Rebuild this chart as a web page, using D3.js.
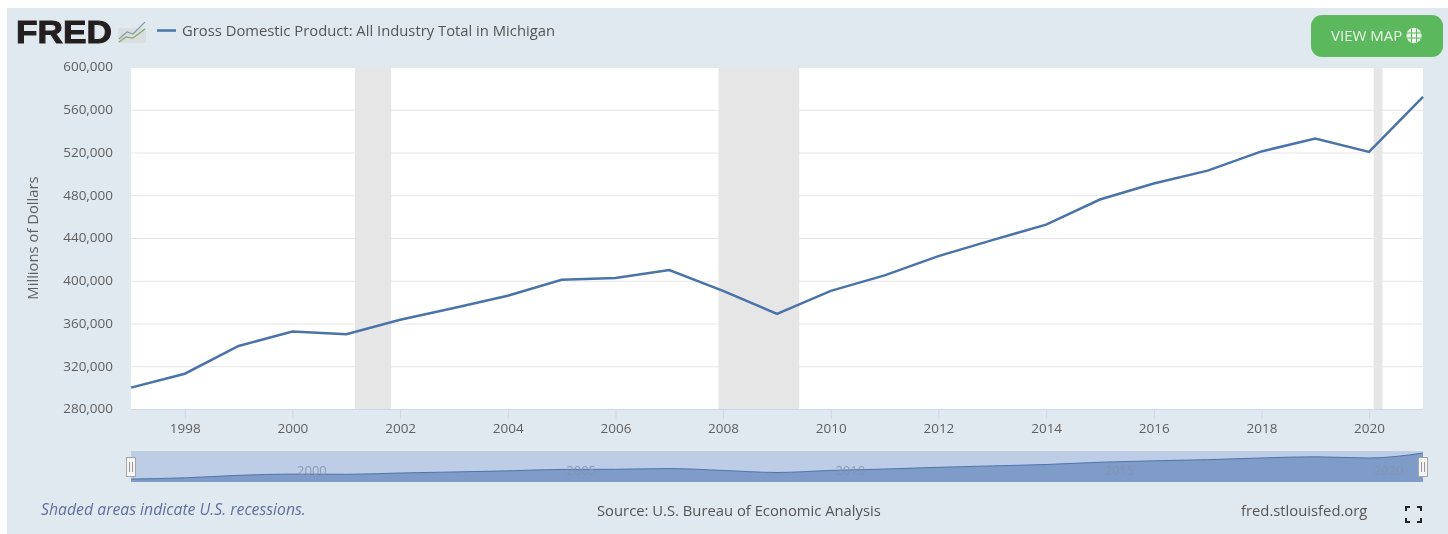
<!DOCTYPE html>
<html>
<head>
<meta charset="utf-8">
<script src="https://cdn.jsdelivr.net/npm/d3@7"></script>
<style>
    html, body { margin: 0; padding: 0; background: #fff; }
    svg { display: block; font-family: "Open Sans", sans-serif; filter: blur(0.4px); }
    .axis path { display: none; }
    .tick-label { fill: #606060; font-size: 13.5px; font-family: "Open Sans", sans-serif; }
</style>
</head>
<body>
<script>
const years = [1997, 1998, 1999, 2000, 2001, 2002, 2003, 2004, 2005, 2006, 2007, 2008,
    2009, 2010, 2011, 2012, 2013, 2014, 2015, 2016, 2017, 2018, 2019, 2020, 2021];
const gdp = [300000, 313000, 339000, 352500, 350000, 363500, 374500, 386000, 401000, 402500, 410000, 390500,
    369000, 390500, 405000, 423000, 438000, 452500, 476000, 491000, 503000, 521000, 533000, 520500, 572000];
const recessionStarts = ['2001-03-01', '2007-12-01', '2020-02-01'];
const recessionEnds = ['2001-11-01', '2009-06-01', '2020-04-01'];
const yTicks = [280000, 320000, 360000, 400000, 440000, 480000, 520000, 560000, 600000];
const xTickYears = [1998, 2000, 2002, 2004, 2006, 2008, 2010, 2012, 2014, 2016, 2018, 2020];
const navTickYears = [2000, 2005, 2010, 2015, 2020];

const width = 1448, height = 534;
const plot = {left: 131, right: 1423, top: 67, bottom: 409};
const nav = {top: 451, bottom: 482};
const lineColor = '#4a74a8';

const dates = years.map(y => new Date(y, 0, 1));
const x = d3.scaleTime()
    .domain([new Date(1997, 0, 1), new Date(2021, 0, 1)])
    .range([plot.left, plot.right]);
const y = d3.scaleLinear().domain([280000, 600000]).range([plot.bottom, plot.top]);
const navY = d3.scaleLinear().domain([280000, 600000]).range([nav.bottom - 1, nav.top - 0.6]);

const svg = d3.select('body').append('svg').attr('width', width).attr('height', height);

svg.append('rect').attr('x', 7).attr('y', 8)
    .attr('width', width - 7).attr('height', height - 8).attr('fill', '#e1e9f0');
svg.append('rect').attr('x', plot.left).attr('y', plot.top)
    .attr('width', plot.right - plot.left).attr('height', plot.bottom - plot.top).attr('fill', '#fff');

// recession bands
svg.append('g').selectAll('rect').data(recessionStarts).join('rect')
    .attr('x', d => x(new Date(d)))
    .attr('y', plot.top)
    .attr('width', (d, i) => x(new Date(recessionEnds[i])) - x(new Date(d)))
    .attr('height', plot.bottom - plot.top)
    .attr('fill', '#e6e6e6');

// y axis with full width grid
const yAxis = d3.axisLeft(y).tickValues(yTicks)
    .tickSize(-(plot.right - plot.left)).tickFormat(d3.format(','));
const yG = svg.append('g').attr('class', 'axis').attr('transform', `translate(${plot.left},0)`).call(yAxis);
yG.selectAll('line').attr('stroke', '#e6e6e6');
yG.selectAll('text').attr('class', 'tick-label').attr('x', -18).attr('dy', '0.28em');

const xAxis = d3.axisBottom(x).tickValues(xTickYears.map(v => new Date(v, 0, 1)))
    .tickSize(10).tickPadding(4).tickFormat(d3.timeFormat('%Y'));
const xG = svg.append('g').attr('class', 'axis').attr('transform', `translate(0,${plot.bottom})`).call(xAxis);
xG.selectAll('line').attr('stroke', '#ccd6eb');
xG.selectAll('text').attr('class', 'tick-label');
svg.append('line').attr('x1', plot.left).attr('x2', plot.right)
    .attr('y1', plot.bottom + 0.5).attr('y2', plot.bottom + 0.5).attr('stroke', '#ccd6eb');

svg.append('text').attr('transform', `translate(38,${(plot.top + plot.bottom) / 2}) rotate(-90)`)
    .attr('text-anchor', 'middle').attr('fill', '#606060').style('font-size', '14.8px')
    .text('Millions of Dollars');

// main series
const line = d3.line().x((d, i) => x(dates[i])).y(d => y(d));
svg.append('path').datum(gdp).attr('d', line)
    .attr('fill', 'none').attr('stroke', lineColor).attr('stroke-width', 2.5);

// navigator
svg.append('rect').attr('x', plot.left).attr('y', nav.top)
    .attr('width', plot.right - plot.left).attr('height', nav.bottom - nav.top).attr('fill', '#bccde5');
svg.append('line').attr('x1', plot.left).attr('x2', plot.right)
    .attr('y1', nav.top + 0.5).attr('y2', nav.top + 0.5).attr('stroke', '#c4cfde');
const navArea = d3.area().x((d, i) => x(dates[i])).y0(nav.bottom).y1(d => navY(d)).curve(d3.curveMonotoneX);
svg.append('path').datum(gdp).attr('d', navArea).attr('fill', '#7f9cc8');
const navLine = d3.line().x((d, i) => x(dates[i])).y(d => navY(d)).curve(d3.curveMonotoneX);
svg.append('path').datum(gdp).attr('d', navLine)
    .attr('fill', 'none').attr('stroke', '#4f74ab').attr('stroke-width', 1);
svg.append('g').selectAll('text').data(navTickYears).join('text')
    .attr('x', d => x(new Date(d, 0, 1)) + 19.5)
    .attr('y', 475)
    .attr('fill', '#8592b2').attr('fill-opacity', 0.85).attr('text-anchor', 'middle').style('font-size', '13px')
    .text(d => d);

[plot.left, plot.right].forEach(hx => {
    const h = svg.append('g').attr('transform', `translate(${hx},467)`);
    h.append('rect').attr('x', -4.5).attr('y', -9.5).attr('width', 9).attr('height', 19)
        .attr('fill', '#f4f4f4').attr('stroke', '#a5a5a5');
    h.append('path').attr('d', 'M-1.5,-5V5M1.5,-5V5').attr('stroke', '#999').attr('fill', 'none');
});

// header
svg.append('text').attr('x', 16).attr('y', 43).attr('fill', '#231f20')
    .attr('textLength', 96).attr('lengthAdjust', 'spacingAndGlyphs')
    .style('font-family', '"Liberation Sans", sans-serif').style('font-weight', 700)
    .style('font-size', '32px')
    .attr('stroke', '#231f20').attr('stroke-width', 1).text('FRED');

const icon = svg.append('g').attr('transform', 'translate(118,20)');
icon.append('rect').attr('y', 8).attr('width', 28).attr('height', 15).attr('fill', '#d9dfe0');
icon.append('path').attr('d', 'M1,19L9,12L15,14L27,2').attr('fill', 'none').attr('stroke', '#8b9ba6').attr('stroke-width', 1.2);
icon.append('path').attr('d', 'M1,22L8,17L15,18L27,9').attr('fill', 'none').attr('stroke', '#86a86f').attr('stroke-width', 1.2);

svg.append('line').attr('x1', 157).attr('x2', 176).attr('y1', 30.5).attr('y2', 30.5)
    .attr('stroke', lineColor).attr('stroke-width', 2.5);
svg.append('text').attr('x', 182).attr('y', 36).attr('fill', '#555').style('font-size', '14.8px')
    .text('Gross Domestic Product: All Industry Total in Michigan');

// view map button
svg.append('rect').attr('x', 1311).attr('y', 15).attr('width', 132).attr('height', 42).attr('rx', 11)
    .attr('fill', '#5cb85c');
svg.append('text').attr('x', 1331).attr('y', 41).attr('fill', '#e9f6e9').style('font-size', '15px').text('VIEW MAP');
const globe = svg.append('g').attr('transform', 'translate(1414,35.5)')
    .attr('fill', 'none').attr('stroke', '#e9f6e9').attr('stroke-width', 1.3);
globe.append('circle').attr('r', 7).attr('fill', '#e9f6e9');
globe.append('path').attr('d', 'M-7,-2.5H7M-7,2.5H7M-2.5,-7V7M2.5,-7V7').attr('stroke', '#5cb85c').attr('stroke-width', 1);

// footer
svg.append('text').attr('x', 41).attr('y', 515).attr('fill', '#5f6f9f')
    .style('font-size', '15.8px').style('font-style', 'italic').text('Shaded areas indicate U.S. recessions.');
svg.append('text').attr('x', 597).attr('y', 516).attr('fill', '#555').style('font-size', '14.8px')
    .text('Source: U.S. Bureau of Economic Analysis');
svg.append('text').attr('x', 1241).attr('y', 516).attr('fill', '#555').style('font-size', '14.8px')
    .text('fred.stlouisfed.org');
svg.append('path')
    .attr('d', 'M1406,511V507H1410M1417,507H1421V511M1421,518V522H1417M1410,522H1406V518')
    .attr('fill', 'none').attr('stroke', '#222').attr('stroke-width', 2);
</script>
</body>
</html>
